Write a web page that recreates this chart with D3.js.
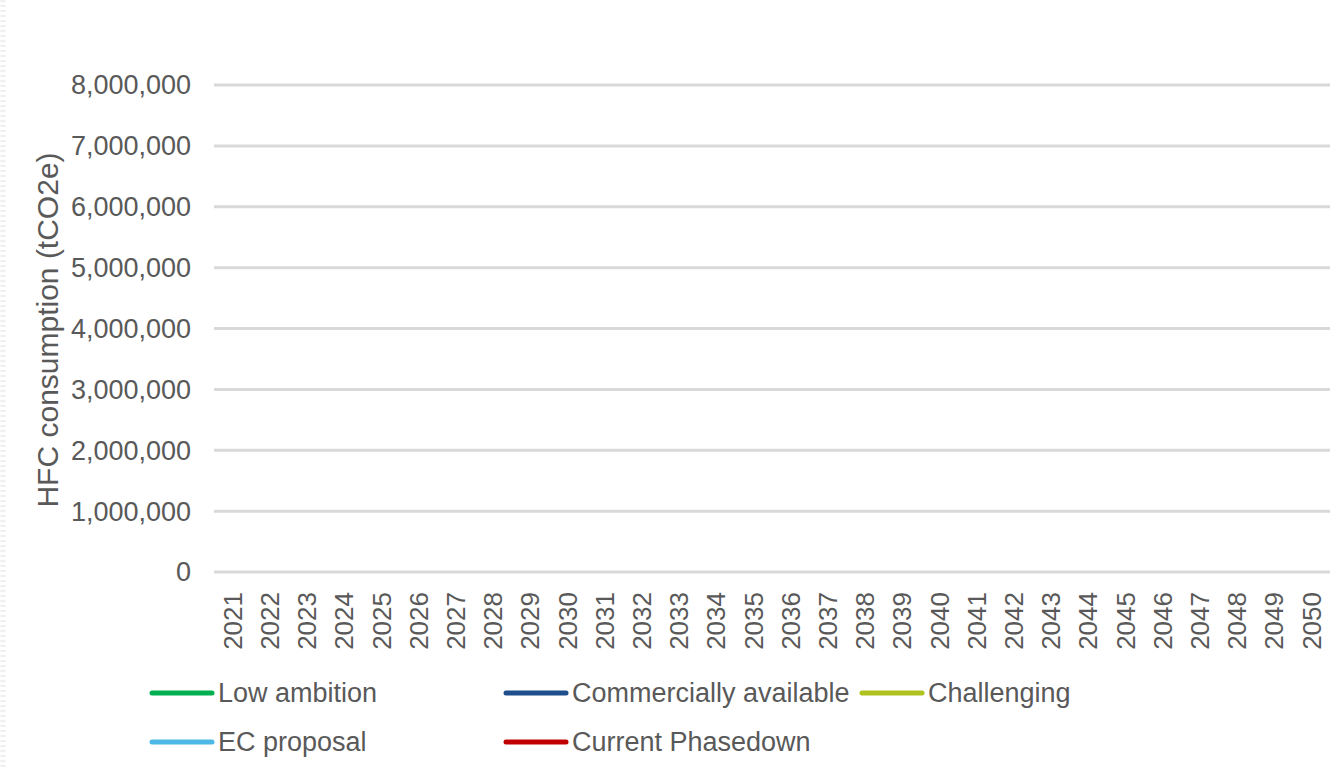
<!DOCTYPE html>
<html>
<head>
<meta charset="utf-8">
<script src="https://cdn.jsdelivr.net/npm/d3@7"></script>
<style>
  html, body { margin: 0; padding: 0; background: #fff; }
  svg { display: block; font-family: "Liberation Sans", Arial, sans-serif; }
</style>
</head>
<body>
<svg id="chart" width="1342" height="768"></svg>
<script>
// ---- data ----
const years = ["2021","2022","2023","2024","2025","2026","2027","2028","2029","2030",
  "2031","2032","2033","2034","2035","2036","2037","2038","2039","2040",
  "2041","2042","2043","2044","2045","2046","2047","2048","2049","2050"];
const yTicks = [0, 1000000, 2000000, 3000000, 4000000, 5000000, 6000000, 7000000, 8000000];
const seriesNames = ["Low ambition", "Commercially available", "Challenging", "EC proposal", "Current Phasedown"];
const seriesColors = ["#00B050", "#1F4E8C", "#AFC21E", "#4DB8E6", "#C00000"];
// No series values are plotted in the reference chart (empty series)
const lowAmbition = [];
const commerciallyAvailable = [];
const challenging = [];
const ecProposal = [];
const currentPhasedown = [];
const seriesValues = [lowAmbition, commerciallyAvailable, challenging, ecProposal, currentPhasedown];
const yTitle = "HFC consumption (tCO2e)";

// ---- layout ----
(function () {
const svg = d3.select("#chart");
const mLeft = 214, mRight = 1330, mTop = 85, mBottom = 572;
const textColor = "#595959";

// faint left border pattern
svg.append("line").attr("x1", 3).attr("x2", 3).attr("y1", 0).attr("y2", 768)
  .attr("stroke", "#efefef").attr("stroke-width", 5).attr("stroke-dasharray", "2,3");

const x = d3.scaleBand().domain(years).range([mLeft, mRight]);
const y = d3.scaleLinear().domain([0, 8000000]).range([mBottom, mTop]);

// gridlines
svg.append("g").selectAll("line").data(yTicks).join("line")
  .attr("x1", mLeft).attr("x2", mRight)
  .attr("y1", d => y(d)).attr("y2", d => y(d))
  .attr("stroke", "#D9D9D9").attr("stroke-width", 3);

// y axis labels
const fmt = d3.format(",");
svg.append("g").selectAll("text").data(yTicks).join("text")
  .attr("x", 191).attr("y", d => y(d)).attr("dy", "0.35em")
  .attr("text-anchor", "end").attr("fill", textColor)
  .style("font-size", "27px")
  .text(d => fmt(d));

// x axis labels (rotated)
svg.append("g").selectAll("text").data(years).join("text")
  .attr("transform", d => `translate(${x(d) + x.bandwidth() / 2},592) rotate(-90)`)
  .attr("dy", "0.35em").attr("text-anchor", "end").attr("fill", textColor)
  .style("font-size", "26px")
  .text(d => d);

// y axis title
svg.append("text")
  .attr("transform", "translate(47,330) rotate(-90)")
  .attr("dy", "0.35em").attr("text-anchor", "middle").attr("fill", textColor)
  .style("font-size", "30px")
  .text(yTitle);

// series lines (empty in reference)
const line = d3.line()
  .defined(d => d != null)
  .x((d, i) => x(years[i]) + x.bandwidth() / 2)
  .y(d => y(d));
svg.append("g").selectAll("path").data(seriesValues).join("path")
  .attr("d", d => d.length ? line(d) : null)
  .attr("fill", "none")
  .attr("stroke", (d, i) => seriesColors[i])
  .attr("stroke-width", 5);

// legend
const colX = [150, 504, 860];
const rowY = [693, 742];
const lg = svg.append("g").selectAll("g").data(seriesNames).join("g")
  .attr("transform", (d, i) => `translate(${colX[i % 3]},${rowY[Math.floor(i / 3)]})`);
lg.append("line").attr("x1", 2).attr("x2", 62).attr("y1", 0).attr("y2", 0)
  .attr("stroke", (d, i) => seriesColors[i]).attr("stroke-width", 5)
  .attr("stroke-linecap", "round");
lg.append("text").attr("x", 68).attr("y", 0).attr("dy", "0.35em")
  .attr("fill", textColor).style("font-size", "27px")
  .text(d => d);
})();
</script>
</body>
</html>
